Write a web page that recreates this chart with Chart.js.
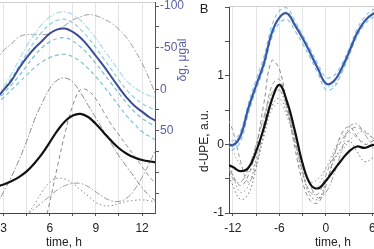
<!DOCTYPE html>
<html>
<head>
    <title>UPE i grawitacja</title>
    <script src="https://cdn.jsdelivr.net/npm/chart.js@4.4.0/dist/chart.umd.min.js"></script>
    <style>
        body { margin: 0; width: 374px; height: 249px; overflow: hidden; background: #fff; position: relative;
               font-family: "Liberation Sans", Arial, sans-serif; }
        canvas { position: absolute; top: 0; }
        #wykresA { left: 0; }
        #wykresB { left: 190px; }
        .txt { position: absolute; font-size: 12px; white-space: nowrap; color: #222; transform: translate(-50%, -50%); }
        .rot { transform: translate(-50%, -50%) rotate(-90deg); }
    </style>
</head>
<body>

<canvas id="wykresA" width="190" height="249"></canvas>
<canvas id="wykresB" width="184" height="249"></canvas>

<div class="txt" style="left:64px; top:242px;">time, h</div>
<div class="txt" style="left:333px; top:242px;">time, h</div>
<div class="txt rot" style="left:182px; top:60px; color:#5a5ea8;">&#948;g, &#956;gal</div>
<div class="txt rot" style="left:204px; top:141px;">d-UPE, a.u.</div>
<div class="txt" style="left:204px; top:8px; font-size:13px;">B</div>

<script>
    const FONT = '"Liberation Sans", Arial, sans-serif';

    // panel A (left): time grid, hours
    const tA = [2.5, 3, 3.5, 4, 4.5, 5, 5.5, 6, 6.5, 7, 7.5, 8, 8.5, 9, 9.5, 10, 10.5, 11, 11.5, 12, 12.5, 13];
    const ticksAx = [3, 4.5, 6, 7.5, 9, 10.5, 12];
    const labelsAx = [3, 6, 9, 12];
    const ticksAg = [-100, -75, -50, -25, 0, 25, 50, 75, 100, 125];
    const labelsAg = [-100, -50, 0, 50];

    // gravity, ugal (right axis, reversed)
    const gravMean = [12, 1, -10, -25, -38, -49, -58, -67, -72, -73, -69, -62, -52, -40, -28, -15, -2, 10, 20, 27, 34, 39];
    const gravA1 = [8, -3, -18, -35, -52, -66, -78, -87, -92, -93, -90, -83, -73, -61, -48, -35, -22, -10, -2, 4, 8, 11];
    const gravA2 = [10, 0, -13, -28, -43, -57, -69, -78, -83, -84, -80, -72, -62, -50, -37, -24, -11, 1, 10, 17, 22, 26];
    const gravA3 = [14, 5, -5, -16, -28, -40, -50, -57, -61, -62, -58, -51, -42, -31, -19, -7, 5, 17, 27, 35, 41, 46];
    const gravA4 = [18, 10, 1, -8, -17, -26, -33, -38, -41, -42, -39, -33, -25, -15, -4, 8, 20, 32, 42, 51, 57, 62];

    // UPE, relative units (hidden axis)
    const upeMean = [0.125, 0.135, 0.150, 0.170, 0.197, 0.235, 0.280, 0.335, 0.390, 0.435, 0.462, 0.470, 0.455, 0.422, 0.382, 0.342, 0.307, 0.281, 0.263, 0.251, 0.244, 0.240];
    const upeA1 = [0.72, 0.77, 0.80, 0.835, 0.845, 0.845, 0.845, 0.85, 0.87, 0.89, 0.915, 0.93, 0.94, 0.935, 0.92, 0.90, 0.87, 0.83, 0.775, 0.71, 0.63, 0.54];
    const upeA2 = [0.03, 0.1, 0.17, 0.25, 0.34, 0.44, 0.52, 0.59, 0.63, 0.64, 0.62, 0.57, 0.51, 0.45, 0.39, 0.33, 0.27, 0.22, 0.17, 0.12, 0.08, 0.05];
    const upeA3 = [null, null, null, null, null, null, -0.1, 0.05, 0.22, 0.38, 0.51, 0.585, 0.58, 0.54, 0.48, 0.42, 0.37, 0.32, 0.27, 0.22, 0.17, 0.13];
    const upeA4 = [null, null, null, null, -0.01, 0.04, 0.10, 0.145, 0.165, 0.16, 0.14, 0.11, 0.08, 0.05, 0.035, 0.035, 0.045, 0.055, 0.06, 0.062, 0.058, 0.05];
    const upeA5 = [null, null, null, null, -0.01, 0.02, 0.05, 0.08, 0.11, 0.13, 0.14, 0.14, 0.125, 0.10, 0.075, 0.058, 0.055, 0.07, 0.11, 0.17, 0.24, 0.32];

    // panel B (right)
    const tB = [-13, -12, -11, -10, -9, -8, -7, -6, -5, -4, -3, -2, -1, 0, 1, 2, 3, 4, 5, 6, 7];
    const ticksBx = [-12, -9, -6, -3, 0, 3, 6];
    const labelsBx = [-12, -6, 0, 6];
    const ticksBy = [-1, -0.5, 0, 0.5, 1, 1.5, 2];
    const labelsBy = [-1, 0, 1];

    const gravBMean = [0.04, -0.01, 0.13, 0.53, 0.86, 1.18, 1.62, 1.85, 1.91, 1.74, 1.55, 1.33, 1.10, 0.89, 0.92, 1.10, 1.35, 1.62, 1.80, 1.90, 1.93];
    const gravB1 = [0.1, 0.05, 0.2, 0.6, 0.95, 1.28, 1.72, 1.95, 1.99, 1.80, 1.60, 1.39, 1.17, 0.98, 1.00, 1.16, 1.40, 1.68, 1.86, 1.96, 1.98];
    const gravB2 = [-0.05, -0.08, 0.05, 0.45, 0.80, 1.12, 1.55, 1.77, 1.82, 1.66, 1.47, 1.26, 1.03, 0.80, 0.83, 1.03, 1.30, 1.57, 1.75, 1.85, 1.88];
    const gravB3 = [0.0, -0.05, 0.10, 0.48, 0.84, 1.16, 1.60, 1.84, 1.93, 1.78, 1.58, 1.35, 1.12, 0.86, 0.86, 1.05, 1.31, 1.59, 1.79, 1.90, 1.94];

    const upeBMean = [-0.28, -0.33, -0.39, -0.34, -0.10, 0.24, 0.64, 0.87, 0.62, 0.20, -0.28, -0.58, -0.64, -0.53, -0.38, -0.23, -0.10, -0.03, -0.05, -0.01, 0.0];
    const upeB1 = [-0.2, -0.45, -0.6, -0.45, -0.05, 0.6, 1.22, 1.1, 0.55, -0.05, -0.55, -0.82, -0.85, -0.6, -0.2, 0.15, 0.26, 0.12, 0.0, 0.05, 0.1];
    const upeB2 = [0.45, 0.2, -0.25, -0.55, -0.3, 0.3, 0.85, 0.95, 0.55, 0.05, -0.4, -0.7, -0.72, -0.45, -0.15, 0.05, 0.2, 0.25, 0.18, 0.1, 0.05];
    const upeB3 = [-0.3, -0.6, -0.8, -0.72, -0.35, 0.15, 0.55, 0.67, 0.45, 0.05, -0.4, -0.75, -0.8, -0.55, -0.25, -0.05, 0.05, -0.1, -0.25, -0.2, -0.1];
    const upeB4 = [-0.1, -0.45, -0.7, -0.6, -0.2, 0.3, 0.7, 0.78, 0.5, 0.1, -0.35, -0.55, -0.5, -0.35, -0.2, -0.1, 0.05, 0.15, 0.2, 0.1, 0.05];
    const upeB5 = [-0.15, -0.5, -0.55, -0.35, 0.0, 0.4, 0.75, 0.8, 0.55, 0.15, -0.3, -0.6, -0.78, -0.7, -0.45, -0.1, 0.25, 0.3, 0.15, 0.0, -0.1];
    const upeB6 = [0.2, -0.1, -0.3, -0.4, -0.25, 0.1, 0.5, 0.6, 0.4, 0.0, -0.45, -0.7, -0.6, -0.35, -0.1, 0.1, 0.18, 0.1, 0.02, -0.05, -0.1];

    const DASH = [4, 3], DOT = [1.5, 2.5], DASHDOT = [6, 2, 1.5, 2];

    function seria(t, vals, color, width, dash, axis) {
        return {
            data: t.map((x, i) => ({ x: x, y: vals[i] })),
            borderColor: color, borderWidth: width, borderDash: dash,
            pointRadius: 0, tension: 0.4, fill: false, yAxisID: axis
        };
    }

    // thin light line on top of the plot area
    const topLine = {
        id: 'topLine',
        afterDraw(chart) {
            const a = chart.chartArea, ctx = chart.ctx;
            ctx.save();
            ctx.strokeStyle = '#d0d0d0';
            ctx.lineWidth = 1;
            ctx.beginPath();
            ctx.moveTo(a.left, a.top + 0.5);
            ctx.lineTo(a.right, a.top + 0.5);
            ctx.stroke();
            ctx.restore();
        }
    };

    function tickOpts(labels, color, pad) {
        return {
            autoSkip: false, maxRotation: 0, minRotation: 0, padding: pad, color: color,
            font: { size: 12, family: FONT },
            callback: v => labels.includes(v) ? String(v) : ''
        };
    }

    // ---- panel A ----
    new Chart(document.getElementById('wykresA'), {
        type: 'line',
        data: {
            datasets: [
                seria(tA, gravMean, '#3b4b98', 2, [], 'g'),
                seria(tA, upeMean, '#111111', 2.2, [], 'u'),
                seria(tA, gravA1, '#a9dcea', 1.2, DASHDOT, 'g'),
                seria(tA, gravA2, '#86cde2', 1.2, DASH, 'g'),
                seria(tA, gravA3, '#74bfd4', 1.2, DASH, 'g'),
                seria(tA, gravA4, '#7cc4d6', 1.2, DASH, 'g'),
                seria(tA, upeA1, '#9a9a9a', 1, DASHDOT, 'u'),
                seria(tA, upeA2, '#8a8a8a', 1, DASHDOT, 'u'),
                seria(tA, upeA3, '#8a8a8a', 1, DASH, 'u'),
                seria(tA, upeA4, '#888888', 1, DOT, 'u'),
                seria(tA, upeA5, '#999999', 1, DASHDOT, 'u')
            ]
        },
        options: {
            responsive: false, animation: false, devicePixelRatio: 1,
            layout: { padding: { top: 2, left: 0, right: 0, bottom: 0 } },
            plugins: { legend: { display: false }, tooltip: { enabled: false } },
            scales: {
                x: {
                    type: 'linear', position: 'bottom', min: 2.77, max: 12.84,
                    afterBuildTicks: s => { s.ticks = ticksAx.map(v => ({ value: v })); },
                    afterFit: s => { s.height = 36; s.paddingLeft = 0; s.paddingRight = 0; },
                    ticks: tickOpts(labelsAx, '#222', 5),
                    grid: { color: '#e4e4e4', tickColor: '#555', tickLength: 3 },
                    border: { color: '#444' }
                },
                g: {
                    type: 'linear', position: 'right', reverse: true, min: -105, max: 149,
                    afterBuildTicks: s => { s.ticks = ticksAg.map(v => ({ value: v })); },
                    afterFit: s => { s.width = 35; s.paddingTop = 0; s.paddingBottom = 0; },
                    ticks: tickOpts(labelsAg, '#5a5ea8', 1),
                    grid: { drawOnChartArea: false, tickColor: '#555', tickLength: 4 },
                    border: { color: '#555' }
                },
                u: { type: 'linear', display: false, min: 0, max: 1 }
            }
        },
        plugins: [topLine]
    });

    // ---- panel B ----
    new Chart(document.getElementById('wykresB'), {
        type: 'line',
        data: {
            datasets: [
                seria(tB, gravBMean, '#3a58a6', 2.2, [], 'y'),
                seria(tB, upeBMean, '#111111', 2.2, [], 'y'),
                seria(tB, gravB1, '#8ccbea', 1.2, DASH, 'y'),
                seria(tB, gravB2, '#7fc3e6', 1.2, DASH, 'y'),
                seria(tB, gravB3, '#9ad2ee', 1.2, DOT, 'y'),
                seria(tB, upeB1, '#8a8a8a', 1, DASH, 'y'),
                seria(tB, upeB2, '#999999', 1, DASH, 'y'),
                seria(tB, upeB3, '#777777', 1, DOT, 'y'),
                seria(tB, upeB4, '#999999', 1, DOT, 'y'),
                seria(tB, upeB5, '#a0a0a0', 1, DASHDOT, 'y'),
                seria(tB, upeB6, '#aaaaaa', 1, DOT, 'y')
            ]
        },
        options: {
            responsive: false, animation: false, devicePixelRatio: 1,
            layout: { padding: { top: 6, left: 0, right: 0, bottom: 0 } },
            plugins: { legend: { display: false }, tooltip: { enabled: false } },
            scales: {
                x: {
                    type: 'linear', position: 'bottom', min: -12.5, max: 6.21,
                    afterBuildTicks: s => { s.ticks = ticksBx.map(v => ({ value: v })); },
                    afterFit: s => { s.height = 36; s.paddingLeft = 0; s.paddingRight = 0; },
                    ticks: tickOpts(labelsBx, '#222', 5),
                    grid: { color: '#e4e4e4', tickColor: '#555', tickLength: 3 },
                    border: { color: '#444' }
                },
                y: {
                    type: 'linear', position: 'left', min: -1, max: 2.02,
                    afterBuildTicks: s => { s.ticks = ticksBy.map(v => ({ value: v })); },
                    afterFit: s => { s.width = 39; s.paddingTop = 0; s.paddingBottom = 0; },
                    ticks: tickOpts(labelsBy, '#222', 1),
                    grid: { drawOnChartArea: false, tickColor: '#555', tickLength: 4 },
                    border: { color: '#444' }
                }
            }
        },
        plugins: [topLine]
    });
</script>

</body>
</html>
